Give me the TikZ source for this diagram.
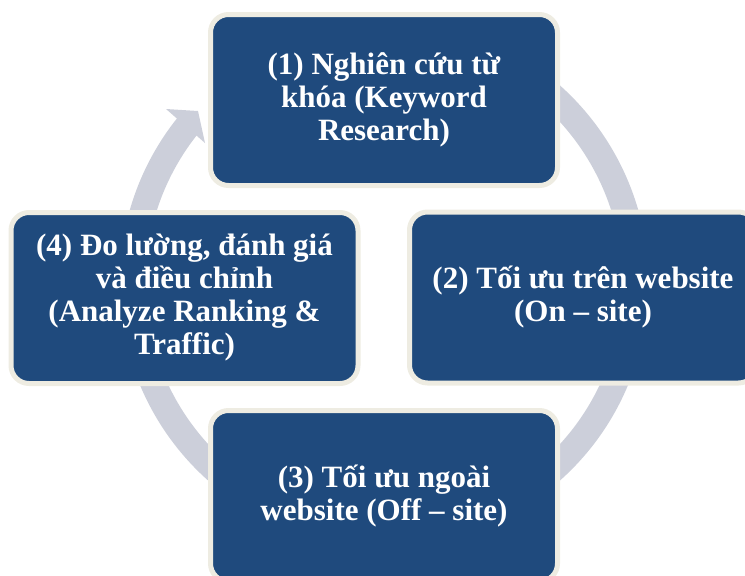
\documentclass[tikz,border=0pt]{standalone}
\usepackage{fontspec}
\setmainfont{Liberation Serif}
\definecolor{ringgray}{HTML}{CCCFDA}
\definecolor{stepblue}{HTML}{1F4A7D}
\definecolor{stepedge}{HTML}{EEECE2}
\begin{document}
\begin{tikzpicture}[x=1pt,y=-1pt,
  stepbox/.style={draw=stepedge, fill=stepblue, line width=5pt,
    rounded corners=18pt, minimum width=347pt, minimum height=171pt,
    text=white, font=\bfseries\fontsize{31}{33}\selectfont,
    align=center, inner sep=0pt}]
\useasboundingbox (0,0) rectangle (745,576);
\clip (0,0) rectangle (745,576);
% cycle ring running clockwise, ending in an arrowhead at the top left
\coordinate (hub) at (384,283);
\draw[ringgray, line width=26pt] (hub) ++(-75:251.5)
  arc[start angle=-75, end angle=219, radius=251.5];
\fill[ringgray] (166,109) -- (198,111) -- (205,143) -- cycle;
% the four steps
\node[stepbox] (s1) at (384,100) {(1) Nghiên cứu từ\\khóa (Keyword\\Research)};
\node[stepbox] (s2) at (583,297.5) {(2) Tối ưu trên website\\(On – site)};
\node[stepbox] (s3) at (384,496) {(3) Tối ưu ngoài\\website (Off – site)};
\node[stepbox] (s4) at (184.5,298) {(4) Đo lường, đánh giá\\và điều chỉnh\\(Analyze Ranking \&\\Traffic)};
\end{tikzpicture}
\end{document}
